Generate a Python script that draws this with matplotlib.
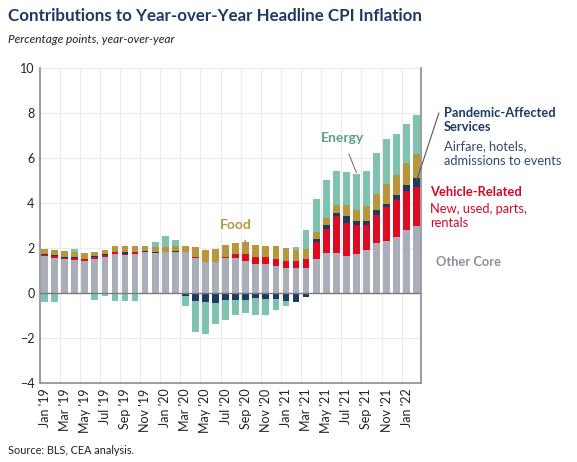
import numpy as np
import matplotlib.pyplot as plt

plt.rcParams['font.family'] = ['Lato', 'DejaVu Sans']

# monthly, Jan 2019 .. Feb 2022
months = ["Jan '19", "Feb '19", "Mar '19", "Apr '19", "May '19", "Jun '19", "Jul '19", "Aug '19",
          "Sep '19", "Oct '19", "Nov '19", "Dec '19", "Jan '20", "Feb '20", "Mar '20", "Apr '20",
          "May '20", "Jun '20", "Jul '20", "Aug '20", "Sep '20", "Oct '20", "Nov '20", "Dec '20",
          "Jan '21", "Feb '21", "Mar '21", "Apr '21", "May '21", "Jun '21", "Jul '21", "Aug '21",
          "Sep '21", "Oct '21", "Nov '21", "Dec '21", "Jan '22", "Feb '22"]

other_core = [1.63, 1.57, 1.50, 1.48, 1.43, 1.50, 1.60, 1.74, 1.70, 1.74, 1.80, 1.78, 1.80,
              1.82, 1.80, 1.56, 1.39, 1.39, 1.56, 1.56, 1.41, 1.27, 1.30, 1.19, 1.12, 1.12,
              1.12, 1.52, 1.79, 1.79, 1.64, 1.71, 1.89, 2.20, 2.33, 2.48, 2.82, 2.99]
vehicle = [0.05, 0.07, 0.07, 0.08, 0.08, 0.08, 0.08, 0.07, 0.05, 0.06, 0.01, 0.01, 0.01,
           0.00, 0.02, 0.02, 0.00, -0.05, 0.02, 0.18, 0.30, 0.34, 0.28, 0.34, 0.32, 0.32,
           0.41, 0.74, 1.06, 1.62, 1.48, 1.29, 1.15, 1.25, 1.49, 1.63, 1.71, 1.73]
pandemic = [0.03, 0.04, 0.03, 0.04, 0.02, 0.06, 0.04, 0.03, 0.06, 0.03, 0.04, 0.02, 0.03,
            0.06, -0.12, -0.36, -0.40, -0.40, -0.30, -0.30, -0.30, -0.22, -0.27, -0.25, -0.34,
            -0.42, -0.17, 0.12, 0.19, 0.15, 0.29, 0.22, 0.18, 0.22, 0.14, 0.24, 0.25, 0.38]
food = [0.25, 0.22, 0.25, 0.22, 0.25, 0.20, 0.20, 0.25, 0.27, 0.27, 0.25, 0.22, 0.22,
        0.22, 0.27, 0.48, 0.54, 0.58, 0.56, 0.50, 0.55, 0.51, 0.50, 0.55, 0.54, 0.49,
        0.43, 0.32, 0.30, 0.33, 0.48, 0.46, 0.64, 0.74, 0.86, 0.87, 1.00, 1.09]
energy = [-0.40, -0.41, 0.02, 0.15, -0.02, -0.30, -0.15, -0.37, -0.37, -0.35, -0.05, 0.25, 0.45,
          0.25, -0.45, -1.38, -1.44, -0.95, -0.88, -0.66, -0.58, -0.76, -0.71, -0.49, -0.26,
          0.11, 0.86, 1.46, 1.70, 1.52, 1.48, 1.59, 1.55, 1.82, 2.00, 1.84, 1.74, 1.73]

series = [other_core, vehicle, pandemic, food, energy]
colors = ['#a9aeb8', '#dc0a23', '#1c3a64', '#b8963c', '#7dc3af']

fig = plt.figure(figsize=(5.77, 4.62), dpi=100)
ax = fig.add_axes([0.0693, 0.171, 0.6603, 0.682])

x = np.arange(len(months))
pos = np.zeros(len(x))
neg = np.zeros(len(x))
for vals, c in zip(series, colors):
    v = np.array(vals)
    base = np.where(v >= 0, pos, neg)
    ax.bar(x, v, bottom=base, width=0.67, color=c, zorder=3)
    pos = pos + np.clip(v, 0, None)
    neg = neg + np.clip(v, None, 0)

ax.set_xlim(-0.45, 37.42)
ax.set_ylim(-4, 10)
ax.set_yticks(range(-4, 11, 2))
ax.set_xticks(x[::2])
ax.set_xticklabels(months[::2], rotation=90)
ax.tick_params(length=0, labelsize=9, colors='#222222', pad=4)
ax.grid(axis='y', color='#ececec', lw=0.8, zorder=0)
for gx in np.arange(1.5, 37, 2):
    ax.axvline(gx, color='#ececec', lw=0.8, zorder=0)
ax.axhline(0, color='#7a7a7a', lw=1.0, zorder=4)
for s in ['left', 'bottom', 'right']:
    ax.spines[s].set_color('#8c8c8c')
    ax.spines[s].set_linewidth(1.2)
ax.spines['top'].set_visible(False)

# titles
fig.text(0.014, 0.966, "Contributions to Year-over-Year Headline CPI Inflation",
         fontsize=12.2, fontweight='bold', color='#1c3a64', va='center')
fig.text(0.014, 0.915, "Percentage points, year-over-year", fontsize=8.6,
         style='italic', color='#222222', va='center')
fig.text(0.014, 0.024, "Source: BLS, CEA analysis.", fontsize=7.8, color='#222222', va='center')

# in-chart labels
ax.annotate("Energy", xy=(31, 5.35), xytext=(29.6, 6.9), fontsize=10, fontweight='bold',
            color='#5e9e8c', ha='center', va='center',
            arrowprops=dict(arrowstyle='-', color='#777777', lw=0.8, shrinkA=6, shrinkB=0))
ax.annotate("Food", xy=(20, 2.28), xytext=(19.0, 3.0), fontsize=10, fontweight='bold',
            color='#b8963c', ha='center', va='center',
            arrowprops=dict(arrowstyle='-', color='#777777', lw=0.8, shrinkA=5, shrinkB=0))

ax.annotate("", xy=(37, 5.0), xytext=(39.2, 8.0), annotation_clip=False,
            arrowprops=dict(arrowstyle='-', color='#555555', lw=0.8, shrinkA=0, shrinkB=0))
fig.text(0.769, 0.740, "Pandemic-Affected\nServices", fontsize=9.3, fontweight='bold',
         color='#1c3a64', va='center', linespacing=1.25)
fig.text(0.769, 0.668, "Airfare, hotels,\nadmissions to events", fontsize=9.3,
         color='#2e4a6e', va='center', linespacing=1.25)
fig.text(0.745, 0.584, "Vehicle-Related", fontsize=9.3, fontweight='bold',
         color='#d0092a', va='center')
fig.text(0.745, 0.532, "New, used, parts,\nrentals", fontsize=9.3, color='#d0092a',
         va='center', linespacing=1.25)
fig.text(0.755, 0.433, "Other Core", fontsize=9.3, fontweight='bold', color='#8a8f99',
         va='center')

plt.savefig("out.png", dpi=100)
